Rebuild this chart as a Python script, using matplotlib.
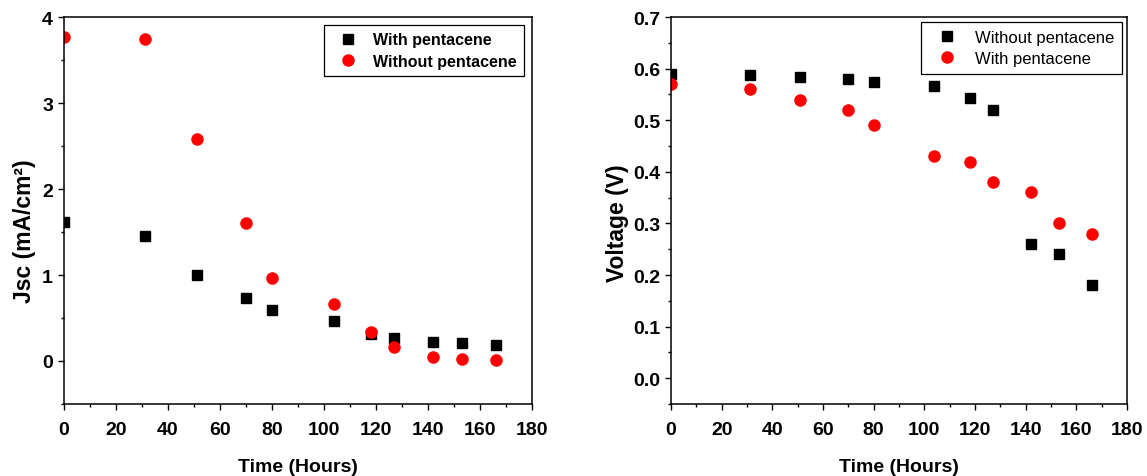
import numpy as np
import matplotlib.pyplot as plt
from matplotlib.ticker import MultipleLocator

plt.rcParams['font.family'] = ['Liberation Sans', 'DejaVu Sans']

hours = [0, 31, 51, 70, 80, 104, 118, 127, 142, 153, 166]

# left panel: Jsc
jsc_with = [1.62, 1.45, 1.00, 0.73, 0.59, 0.47, 0.31, 0.27, 0.22, 0.21, 0.19]
jsc_without = [3.77, 3.74, 2.58, 1.61, 0.96, 0.66, 0.34, 0.16, 0.05, 0.02, 0.01]

# right panel: voltage
v_without = [0.59, 0.587, 0.584, 0.581, 0.574, 0.567, 0.543, 0.52, 0.26, 0.24, 0.18]
v_with = [0.57, 0.56, 0.54, 0.52, 0.49, 0.43, 0.42, 0.38, 0.36, 0.30, 0.28]

fig = plt.figure(figsize=(11.47, 4.77), dpi=100)
ax1 = fig.add_axes([0.0558, 0.151, 0.408, 0.811])
ax2 = fig.add_axes([0.585, 0.151, 0.3976, 0.811])

ax1.plot(hours, jsc_with, 's', color='black', ms=7, label='With pentacene')
ax1.plot(hours, jsc_without, 'o', color='red', ms=8, label='Without pentacene')
ax1.set_xlim(0, 180)
ax1.set_ylim(-0.5, 4)
ax1.set_yticks([0, 1, 2, 3, 4])
ax1.yaxis.set_minor_locator(MultipleLocator(0.5))
ax1.set_ylabel('Jsc (mA/cm²)', fontsize=16.5, fontweight='bold')
ax1.yaxis.set_label_coords(-0.059, 0.45)
ax1.legend(loc='upper right', prop={'weight': 'bold', 'size': 11.5},
           fancybox=False, edgecolor='black', framealpha=1, borderaxespad=0.5,
           handlelength=2, handletextpad=0.6, borderpad=0.45, labelspacing=0.4)

ax2.plot(hours, v_without, 's', color='black', ms=7, label='Without pentacene')
ax2.plot(hours, v_with, 'o', color='red', ms=8, label='With pentacene')
ax2.set_xlim(0, 180)
ax2.set_ylim(-0.05, 0.7)
ax2.set_yticks(np.arange(0, 0.71, 0.1))
ax2.yaxis.set_minor_locator(MultipleLocator(0.05))
ax2.yaxis.set_major_formatter(plt.FormatStrFormatter('%.1f'))
ax2.set_ylabel('Voltage (V)', fontsize=16.5, fontweight='bold')
ax2.yaxis.set_label_coords(-0.093, 0.47)
ax2.legend(loc='upper right', prop={'size': 12},
           fancybox=False, edgecolor='black', framealpha=1, borderaxespad=0.3,
           handlelength=2.2, handletextpad=0.6, borderpad=0.45, labelspacing=0.4)

for ax in (ax1, ax2):
    ax.set_xticks(np.arange(0, 181, 20))
    ax.xaxis.set_minor_locator(MultipleLocator(10))
    ax.set_xlabel('Time (Hours)', fontsize=14, fontweight='bold', labelpad=15)
    ax.tick_params(which='both', direction='out', top=False, right=False, width=1)
    ax.tick_params(which='major', length=4, labelsize=14, pad=4)
    ax.tick_params(axis='x', which='major', pad=8)
    ax.tick_params(which='minor', length=2.5)
    for lab in ax.get_xticklabels() + ax.get_yticklabels():
        lab.set_fontweight('bold')
    for s in ax.spines.values():
        s.set_linewidth(1.1)
    ax.get_legend().get_frame().set_linewidth(0.9)

fig.savefig('out.png', dpi=100)
